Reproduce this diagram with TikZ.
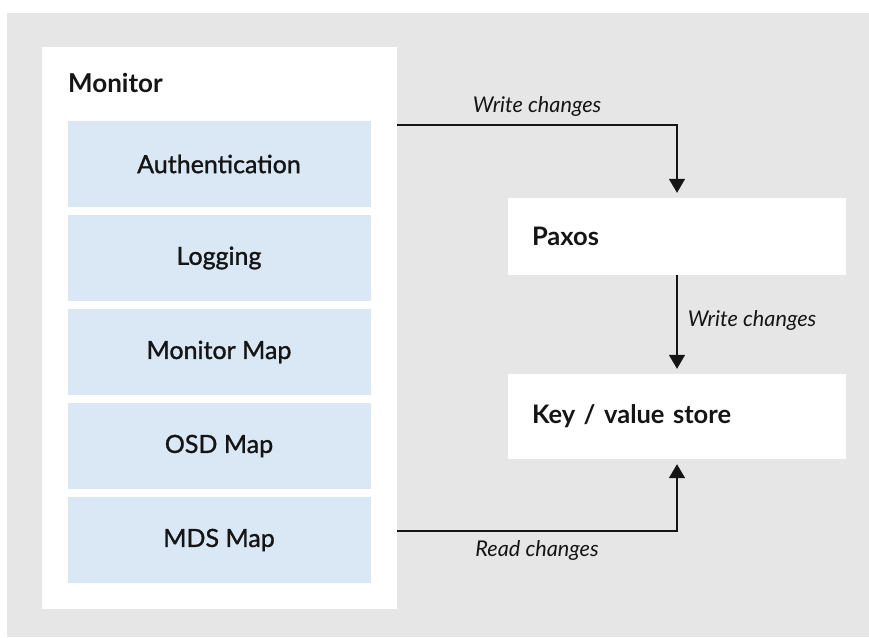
\documentclass[tikz,border=0pt]{standalone}
\usepackage{fontspec}
\setmainfont{Lato}
\newfontfamily\mapfont{Lato}[FakeBold=1.2]
\usetikzlibrary{arrows.meta}
\definecolor{bggray}{HTML}{E6E6E6}
\definecolor{mapblue}{HTML}{DAE8F6}
\definecolor{ink}{HTML}{151515}
\begin{document}
\begin{tikzpicture}[x=1pt,y=-1pt,
  every node/.style={text=ink},
  mapbox/.style={fill=mapblue, minimum width=303pt, minimum height=86pt, inner sep=0pt,
    font=\mapfont\fontsize{25}{29}\selectfont},
  store/.style={fill=white, minimum width=338pt, inner sep=0pt, inner xsep=24pt,
    text width=290pt, align=left, font=\fontsize{25.5}{30}\selectfont\bfseries},
  flow/.style={draw=ink, line width=1.6pt, -{Triangle[width=16pt,length=14pt]}, shorten >=5pt},
  flowlabel/.style={inner sep=0pt, font=\fontsize{21.7}{25}\selectfont\itshape}]
\useasboundingbox (0,0) rectangle (869,637);
\fill[bggray] (7,13) rectangle (869,637);
% monitor and its maps
\node[fill=white, minimum width=355pt, minimum height=562pt, inner sep=0pt] (mon) at (219.5,328) {};
\node[anchor=base west, inner sep=0pt, font=\fontsize{26}{30}\selectfont\bfseries] (montitle) at (68,92.7) {Monitor};
\node[mapbox] (auth) at (219,164) {Authentication};
\node[mapbox] (log) at (219,258) {Logging};
\node[mapbox] (monmap) at (219,352) {Monitor Map};
\node[mapbox] (osdmap) at (219,446) {OSD Map};
\node[mapbox] (mdsmap) at (219,540) {MDS Map};
% right side
\node[store, minimum height=77pt] (paxos) at (677,236.5) {Paxos};
\node[store, minimum height=85pt] (kv) at (677,416.5) {Key / value store};
\coordinate (wout) at (mon.east |- 0,125);
\coordinate (rout) at (mon.east |- 0,531);
\path[flow] (wout) -| node[flowlabel, pos=0.25, above=8pt] (wlab1) {Write changes} (paxos.north);
\path[flow] (paxos) -- node[flowlabel, right=10pt, yshift=4pt] (wlab2) {Write changes} (kv);
\path[flow] (rout) -| node[flowlabel, pos=0.25, below=9pt] (rlab) {Read changes} (kv.south);
\end{tikzpicture}
\end{document}
